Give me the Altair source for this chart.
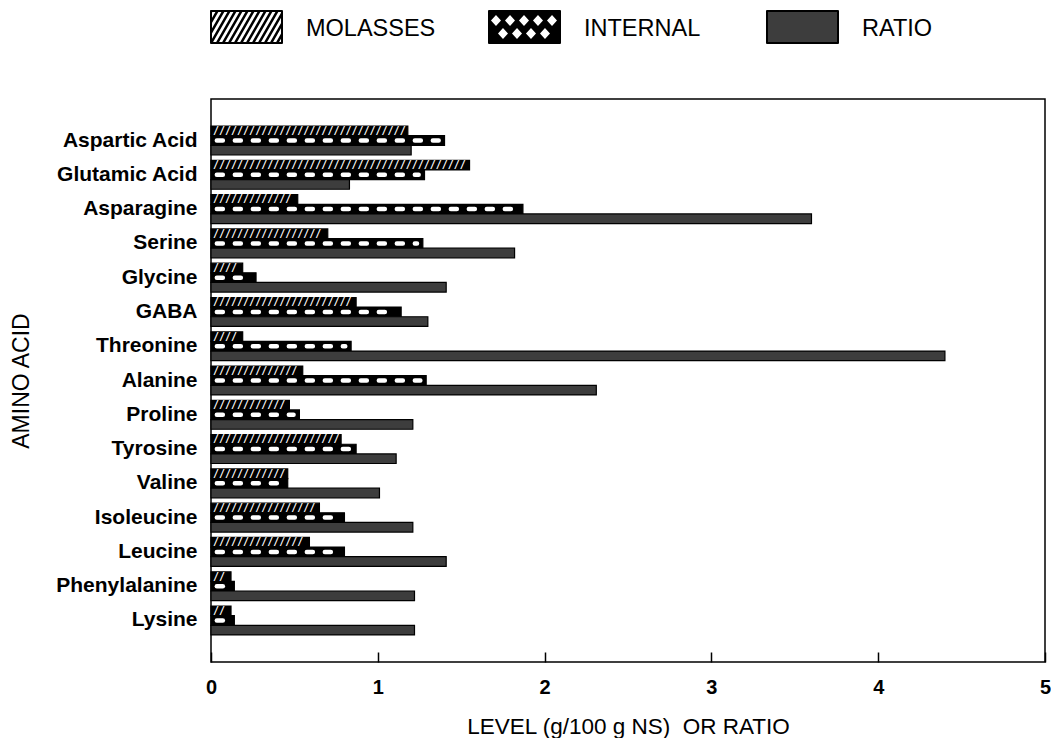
import altair as alt
import pandas as pd

# ---------------- data ----------------
amino = ["Aspartic Acid", "Glutamic Acid", "Asparagine", "Serine", "Glycine", "GABA",
         "Threonine", "Alanine", "Proline", "Tyrosine", "Valine", "Isoleucine",
         "Leucine", "Phenylalanine", "Lysine"]
molasses = [1.18, 1.55, 0.52, 0.70, 0.19, 0.87, 0.19, 0.55, 0.47, 0.78, 0.46, 0.65, 0.59, 0.12, 0.12]
internal = [1.40, 1.28, 1.87, 1.27, 0.27, 1.14, 0.84, 1.29, 0.53, 0.87, 0.46, 0.80, 0.80, 0.14, 0.14]
ratio = [1.20, 0.83, 3.60, 1.82, 1.41, 1.30, 4.40, 2.31, 1.21, 1.11, 1.01, 1.21, 1.41, 1.22, 1.22]
series = ["MOLASSES", "INTERNAL", "RATIO"]
x_ticks = [0, 1, 2, 3, 4, 5]

rows = []
for s, vals in zip(series, [molasses, internal, ratio]):
    for a, v in zip(amino, vals):
        rows.append({"amino": a, "series": s, "value": v})
df = pd.DataFrame(rows)

W, H = 834, 563
FONT = "Liberation Sans"
XTITLE = "LEVEL (g/100 g NS)\u00a0\u00a0OR RATIO"
PX_PER_UNIT = W / 5.0

x_axis = alt.Axis(values=x_ticks, format="d", title=XTITLE, offset=-10, tickSize=10,
                  tickWidth=1.5, tickColor="black", domain=False, grid=False,
                  labelFlush=False, labelPadding=15, labelFont=FONT, labelFontSize=20,
                  labelFontWeight="bold", labelColor="black", titleFont=FONT,
                  titleFontSize=22.5, titleFontWeight="normal", titleColor="black",
                  titlePadding=18)
x_scale = alt.Scale(domain=[0, 5], nice=False, zero=True)

y_enc = alt.Y("amino:N", sort=amino,
              scale=alt.Scale(domain=amino, paddingInner=0.157, paddingOuter=0.79),
              axis=alt.Axis(title="AMINO ACID", ticks=False, domain=False, labelPadding=14,
                            labelFont=FONT, labelFontSize=21, labelFontWeight="bold",
                            labelColor="black", titleFont=FONT, titleFontSize=23,
                            titleFontWeight="normal", titleColor="black", titlePadding=22,
                            labelLimit=400))
yoff = alt.YOffset("series:N", sort=series,
                   scale=alt.Scale(domain=series, paddingInner=0, paddingOuter=0))

base = alt.Chart(df)

bars = base.mark_bar(stroke="black", strokeWidth=1.2).encode(
    x=alt.X("value:Q", scale=x_scale, axis=x_axis),
    y=y_enc,
    yOffset=yoff,
    color=alt.Color("series:N", scale=alt.Scale(domain=series, range=["#000000", "#000000", "#3d3d3d"]),
                    legend=None),
)

# white diagonal hatching on the molasses bars
char_w = 0.6021 * 10
hatch = base.transform_filter(alt.datum.series == "MOLASSES").transform_calculate(
    start="0",
    hatch=f"pad('', max(0, floor(datum.value * {PX_PER_UNIT / char_w:.4f} - 0.6)), '/')"
).mark_text(align="left", baseline="middle", font="DejaVu Sans Mono", fontSize=10,
            fontWeight="bold", color="white", dx=2).encode(
    x=alt.X("start:Q", scale=x_scale, axis=x_axis),
    y=y_enc,
    yOffset=yoff,
    text="hatch:N",
)

# white oval dots on the internal bars
dots = base.transform_filter(alt.datum.series == "INTERNAL").transform_calculate(
    start="0.035", end="datum.value - 0.035"
).mark_rule(color="white", strokeWidth=4.5, strokeDash=[6, 12], strokeCap="round").encode(
    x=alt.X("start:Q", scale=x_scale, axis=x_axis),
    x2="end:Q",
    y=y_enc,
    yOffset=yoff,
)

main = alt.layer(bars, hatch, dots)

# ---------------- legend (drawn above the plot) ----------------
U = 35.5


def p(x, y):
    return f"{x / U:.3f},{y / U:.3f}"


rect = f"M{p(0, -16)}L{p(71, -16)}L{p(71, 16)}L{p(0, 16)}Z"

segs = []
run = 18.5
x0 = -18.0
while x0 < 71:
    tmin = max(0.0, (0 - x0) / run)
    tmax = min(1.0, (71 - x0) / run)
    if tmax > tmin:
        segs.append(f"M{p(x0 + run * tmin, 16 - 32 * tmin)}L{p(x0 + run * tmax, 16 - 32 * tmax)}")
    x0 += 6
slashes = "".join(segs)


def diamond(cx, cy, w, h):
    return f"M{p(cx - w / 2, cy)}L{p(cx, cy - h / 2)}L{p(cx + w / 2, cy)}L{p(cx, cy + h / 2)}Z"


holes = "".join([diamond(x, -6.5, 10, 11) for x in (7, 21, 35, 49, 63)] +
                [diamond(x, 6.5, 10, 11) for x in (14, 28, 42, 56)])

leg_df = pd.DataFrame({"series": series})
half_step = W / 6.0
lx = alt.X("series:N", sort=series,
           scale=alt.Scale(domain=series, paddingInner=0, paddingOuter=0,
                           range=[-half_step, W - half_step]),
           axis=None)
LEG_Y = -72


def sw(name, path, **kw):
    return alt.Chart(leg_df).transform_filter(alt.datum.series == name).mark_point(
        shape=path, size=5041, opacity=1, strokeJoin="round", **kw).encode(
        x=lx, y=alt.value(LEG_Y))


legend = alt.layer(
    sw("MOLASSES", rect, filled=True, fill="white", stroke="black", strokeWidth=2),
    sw("MOLASSES", slashes, filled=False, stroke="black", strokeWidth=2.5),
    sw("INTERNAL", rect, filled=True, fill="black", stroke="black", strokeWidth=2),
    sw("INTERNAL", holes, filled=True, fill="white", strokeWidth=0),
    sw("RATIO", rect, filled=True, fill="#3d3d3d", stroke="black", strokeWidth=2),
    alt.Chart(leg_df).mark_text(align="left", baseline="middle", font=FONT, fontSize=23.5,
                                dx=95, dy=2, color="black").encode(
        x=lx, y=alt.value(LEG_Y), text="series:N"),
)

chart = alt.layer(main, legend).resolve_scale(x="independent").properties(
    width=W, height=H,
    view=alt.ViewBackground(stroke="black", strokeWidth=1.5),
    padding={"top": 1, "left": 2, "right": 0, "bottom": 0},
    background="white",
)

chart.save("out.html", embed_options={"renderer": "svg", "actions": False})
